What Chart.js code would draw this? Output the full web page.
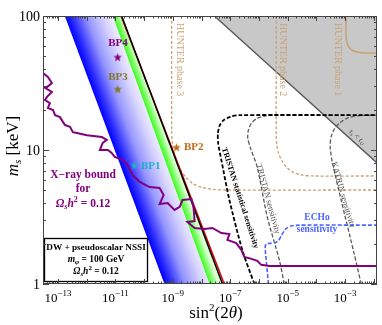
<!DOCTYPE html>
<html lang="en">
<head>
<meta charset="UTF-8">
<title>DW + pseudoscalar NSSI - sterile neutrino parameter space</title>
<script src="https://cdn.jsdelivr.net/npm/chart.js@4.4.1/dist/chart.umd.min.js"></script>
<style>
  html, body { margin: 0; padding: 0; background: #fff; }
  #chart { display: block; }
</style>
</head>
<body>
<canvas id="chart" width="382" height="325"></canvas>
<script>
// x values are log10 of sin^2(2 theta), y values are m_s in keV
const xRangeExp = [-13.52, -1.89];
const yRange = [1, 100];
const xTickExps = [-13, -11, -9, -7, -5, -3];
const yTickVals = [1, 10, 100];

// straight bands (top at m_s = 100 keV, bottom at m_s = 1 keV)
const edgeM = [100, 1];
const blueLeftX = [-12.76, -9.29];
const blueRightX = [-11.09, -7.72];
const blackX = [-10.78, -7.27];
const redX = [-10.80, -7.21];

// tau_s < t_U region boundary
const tauX = [-7.55, -1.89];
const tauM = [100, 8.0];

// X-ray bound
const xrayX = [-13.52, -13.35, -13.21, -13.38, -13.45, -13.21, -13.38, -13.45, -13.28, -13.35,
  -13.17, -13.10, -12.93, -12.76, -12.58, -12.48, -12.34, -11.99, -11.47, -11.30,
  -11.44, -11.54, -11.26, -11.13, -11.02, -10.74, -10.57, -10.40, -10.15, -9.81,
  -9.46, -9.32, -9.46, -9.18, -8.94, -8.76, -8.66, -8.35, -8.28, -8.24,
  -8.49, -8.24, -7.90, -7.62, -7.31, -7.03, -7.10, -6.79, -6.61, -6.51,
  -6.26, -6.06, -5.92, -5.64, -1.89];
const xrayM = [37.6, 35.1, 31.6, 29.5, 29.1, 27.1, 24.9, 23.6, 22.4, 20.6,
  19.9, 18.2, 17.6, 15.4, 14.9, 13.6, 13.4, 12.9, 12.5, 11.9,
  11.3, 10.0, 10.0, 9.50, 8.87, 8.42, 7.73, 6.50, 5.77, 5.29,
  5.20, 4.61, 3.95, 4.02, 3.57, 3.76, 4.24, 4.31, 3.76, 2.95,
  2.90, 2.62, 2.57, 2.62, 2.40, 2.36, 2.13, 2.02, 1.79, 1.59,
  1.54, 1.49, 1.39, 1.36, 1.36];

// experiments
const hunter3X = [-9.04, -9.04, -9.02, -8.98, -8.90, -8.76, -8.56, -8.30, -7.98, -7.60, -7.20, -1.89];
const hunter3M = [100, 14.0, 11.6, 10.0, 8.6, 7.3, 6.3, 5.6, 5.25, 5.08, 5.03, 5.03];
const hunter2X = [-5.40, -5.40, -5.38, -5.32, -5.20, -5.03, -4.80, -4.50, -4.10, -1.89];
const hunter2M = [100, 13.0, 11.0, 9.5, 8.3, 7.4, 6.8, 6.5, 6.40, 6.40];
const hunter1X = [-2.97, -2.97, -2.94, -2.86, -2.72, -2.50, -2.17, -1.89];
const hunter1M = [100, 72.0, 64.0, 58.5, 55.0, 53.5, 53.0, 53.0];

const tristanStatX = [-6.16, -6.58, -7.03, -7.31, -7.42, -7.43, -7.37, -7.23, -7.00, -6.68, -1.89];
const tristanStatM = [1, 1.79, 4.24, 8.42, 11.2, 13.3, 15.2, 16.7, 17.7, 18.2, 18.2];
const tristanX = [-5.12, -5.29, -5.71, -6.06, -6.30, -6.39, -6.37, -6.26, -6.07, -5.82, -5.50, -1.89];
const tristanM = [1, 1.51, 3.16, 7.46, 10.4, 12.3, 14.0, 15.9, 17.2, 17.9, 18.2, 18.2];
const katrinX = [-2.44, -2.69, -3.14, -3.46, -3.52, -3.49, -3.37, -3.18, -2.92, -2.60, -1.89];
const katrinM = [1, 1.70, 4.24, 8.42, 10.6, 12.5, 14.4, 16.0, 17.3, 18.0, 18.2];
const echoX = [-5.67, -5.78, -5.78, -5.74, -5.64, -5.43, -5.31, -5.21, -5.07, -4.88, -4.60, -1.89];
const echoM = [1, 1.79, 1.93, 1.99, 2.01, 2.03, 2.12, 2.32, 2.58, 2.71, 2.75, 2.75];

// benchmark points
const bpNames = ['BP1', 'BP2', 'BP3', 'BP4'];
const bpX = [-10.33, -8.87, -10.92, -10.92];
const bpM = [7.73, 10.5, 28.5, 49.4];
const bpColors = ['#1fb0c8', '#c26a12', '#857a22', '#800080'];

const SERIF = '"Liberation Serif", "DejaVu Serif", serif';
const TAN = '#c9a272';
const PURPLE = '#800080';
const ECHO = '#4a63ff';

function pts(xs, ms) {
  return xs.map((e, i) => ({ x: Math.pow(10, e), y: ms[i] }));
}

function band(leftX, rightX) {
  return [
    { x: Math.pow(10, leftX[0]), y: edgeM[0] },
    { x: Math.pow(10, leftX[1]), y: edgeM[1] },
    { x: Math.pow(10, rightX[1]), y: edgeM[1] },
    { x: Math.pow(10, rightX[0]), y: edgeM[0] }
  ];
}

// gradient running across a slanted band, from its left edge to its right edge
function bandGradient(leftX, rightX, stops) {
  return function (context) {
    const chart = context.chart;
    const sx = chart.scales.x, sy = chart.scales.y;
    if (!chart.chartArea || !sx || !sy) return stops[0][1];
    const ax = sx.getPixelForValue(Math.pow(10, leftX[0])), ay = sy.getPixelForValue(edgeM[0]);
    const bx = sx.getPixelForValue(Math.pow(10, leftX[1])), by = sy.getPixelForValue(edgeM[1]);
    const cx = sx.getPixelForValue(Math.pow(10, rightX[0]));
    const len = Math.hypot(bx - ax, by - ay);
    const nx = (by - ay) / len, ny = -(bx - ax) / len;
    const w = (cx - ax) * nx;
    const g = chart.ctx.createLinearGradient(ax, ay, ax + nx * w, ay + ny * w);
    stops.forEach(s => g.addColorStop(s[0], s[1]));
    return g;
  };
}

function starImage(color, r) {
  const c = document.createElement('canvas');
  const s = Math.ceil(r * 2 + 2);
  c.width = s; c.height = s;
  const g = c.getContext('2d');
  g.translate(s / 2, s / 2 + 0.5);
  g.beginPath();
  for (let i = 0; i < 10; i++) {
    const rr = i % 2 ? r * 0.42 : r;
    const a = -Math.PI / 2 + i * Math.PI / 5;
    g.lineTo(rr * Math.cos(a), rr * Math.sin(a));
  }
  g.closePath();
  g.fillStyle = color;
  g.fill();
  return c;
}

function lineSet(xs, ms, color, width, dash, order, tension) {
  return {
    data: pts(xs, ms), borderColor: color, borderWidth: width, borderDash: dash || [],
    pointRadius: 0, fill: false, tension: tension || 0, order: order
  };
}

// mixed-size text (sub/superscripts) on one baseline
function rich(ctx, parts, x, y, align) {
  let w = 0;
  parts.forEach(p => { ctx.font = p.f; w += ctx.measureText(p.t).width; });
  let cx = align === 'center' ? x - w / 2 : (align === 'right' ? x - w : x);
  ctx.textAlign = 'left';
  parts.forEach(p => {
    ctx.font = p.f;
    ctx.fillText(p.t, cx, y + (p.dy || 0));
    cx += ctx.measureText(p.t).width;
  });
}

function rotText(ctx, text, font, color, x, y, angle, align) {
  ctx.save();
  ctx.translate(x, y);
  ctx.rotate(angle);
  ctx.font = font;
  ctx.fillStyle = color;
  ctx.textAlign = align || 'center';
  ctx.textBaseline = 'middle';
  ctx.fillText(text, 0, 0);
  ctx.restore();
}

const decor = {
  id: 'decor',
  afterDatasetsDraw(chart) {
    const { ctx, chartArea: a } = chart;
    const sx = chart.scales.x, sy = chart.scales.y;
    ctx.save();

    // texts inside the plot
    ctx.textBaseline = 'middle';
    ctx.fillStyle = PURPLE;
    rich(ctx, [{ t: 'X\u2212ray bound', f: 'bold 11.5px ' + SERIF }], 83, 175, 'center');
    rich(ctx, [{ t: 'for', f: 'bold 11.5px ' + SERIF }], 83, 189, 'center');
    rich(ctx, [
      { t: '\u03A9', f: 'italic bold 11.5px ' + SERIF },
      { t: 's', f: 'italic bold 8px ' + SERIF, dy: 3 },
      { t: 'h', f: 'italic bold 11.5px ' + SERIF },
      { t: '2', f: 'bold 8px ' + SERIF, dy: -4 },
      { t: ' = 0.12', f: 'bold 11.5px ' + SERIF }
    ], 83, 204, 'center');

    // benchmark labels
    ctx.font = 'bold 11px ' + SERIF;
    ctx.fillStyle = bpColors[3]; ctx.textAlign = 'center'; ctx.fillText(bpNames[3], 118, 43);
    ctx.fillStyle = bpColors[2]; ctx.fillText(bpNames[2], 118, 77);
    ctx.textAlign = 'left';
    ctx.fillStyle = bpColors[1]; ctx.fillText(bpNames[1], 184, 147);
    ctx.fillStyle = bpColors[0]; ctx.fillText(bpNames[0], 141, 166);

    // experiment labels
    rotText(ctx, 'HUNTER phase 3', '10px ' + SERIF, TAN, 180, 23, Math.PI / 2, 'left');
    rotText(ctx, 'HUNTER phase 2', '10px ' + SERIF, TAN, 283, 23, Math.PI / 2, 'left');
    rotText(ctx, 'HUNTER phase 1', '10px ' + SERIF, TAN, 338, 23, Math.PI / 2, 'left');
    rotText(ctx, 'TRISTAN statistical sensitivity', 'bold 8px ' + SERIF, '#000', 240, 198, 1.258);
    rotText(ctx, 'TRISTAN sensitivity', '8.5px ' + SERIF, '#555', 268, 199, 1.304);
    rotText(ctx, 'KATRIN sensitivity', '8.5px ' + SERIF, '#555', 343, 195, 1.29);

    ctx.save();
    ctx.translate(357, 137);
    ctx.rotate(0.734);
    ctx.fillStyle = '#444';
    ctx.textBaseline = 'middle';
    rich(ctx, [
      { t: '\u03C4', f: 'italic 8px ' + SERIF },
      { t: 's', f: 'italic 5px ' + SERIF, dy: 2 },
      { t: ' < ', f: '8px ' + SERIF },
      { t: 't', f: 'italic 8px ' + SERIF },
      { t: 'U', f: 'italic 5px ' + SERIF, dy: 2 }
    ], 0, 0, 'center');
    ctx.restore();

    ctx.fillStyle = ECHO;
    ctx.textBaseline = 'middle';
    rich(ctx, [{ t: 'ECHo', f: 'bold 9.5px ' + SERIF }], 317, 218, 'center');
    rich(ctx, [{ t: 'sensitivity', f: 'bold 9.5px ' + SERIF }], 317, 230, 'center');

    // info box
    ctx.fillStyle = '#fff';
    ctx.fillRect(44, 238, 104, 44);
    ctx.strokeStyle = '#000'; ctx.lineWidth = 1.3;
    ctx.strokeRect(44.5, 238.5, 103, 43);
    ctx.fillStyle = '#000';
    rich(ctx, [{ t: 'DW + pseudoscalar NSSI', f: 'bold 9.2px ' + SERIF }], 96, 248, 'center');
    rich(ctx, [
      { t: 'm', f: 'italic bold 9.5px ' + SERIF },
      { t: '\u03C6', f: 'italic bold 7px ' + SERIF, dy: 2.5 },
      { t: ' = 100 GeV', f: 'bold 9.5px ' + SERIF }
    ], 96, 260, 'center');
    rich(ctx, [
      { t: '\u03A9', f: 'italic bold 9.5px ' + SERIF },
      { t: 's', f: 'italic bold 7px ' + SERIF, dy: 2.5 },
      { t: 'h', f: 'italic bold 9.5px ' + SERIF },
      { t: '2', f: 'bold 7px ' + SERIF, dy: -3.5 },
      { t: ' = 0.12', f: 'bold 9.5px ' + SERIF }
    ], 96, 272, 'center');

    // frame and inward ticks
    ctx.strokeStyle = '#444'; ctx.lineWidth = 1;
    ctx.strokeRect(a.left + 0.5, a.top + 0.5, a.right - a.left - 1, a.bottom - a.top - 1);
    ctx.beginPath();
    for (let e = Math.floor(xRangeExp[0]); e <= Math.ceil(xRangeExp[1]); e++) {
      for (let k = 1; k < 10; k++) {
        const v = k * Math.pow(10, e);
        if (v < sx.min || v > sx.max) continue;
        const p = Math.round(sx.getPixelForValue(v)) + 0.5;
        const len = k === 1 ? 5 : 2.5;
        ctx.moveTo(p, a.bottom); ctx.lineTo(p, a.bottom - len);
        ctx.moveTo(p, a.top); ctx.lineTo(p, a.top + len);
      }
    }
    for (let e = 0; e <= 2; e++) {
      for (let k = 1; k < 10; k++) {
        const v = k * Math.pow(10, e);
        if (v < yRange[0] || v > yRange[1]) continue;
        const p = Math.round(sy.getPixelForValue(v)) + 0.5;
        const len = k === 1 ? 6 : 3;
        ctx.moveTo(a.left, p); ctx.lineTo(a.left + len, p);
        ctx.moveTo(a.right, p); ctx.lineTo(a.right - len, p);
      }
    }
    ctx.stroke();

    // tick labels
    ctx.fillStyle = '#000';
    ctx.textBaseline = 'alphabetic';
    xTickExps.forEach(e => {
      const p = sx.getPixelForValue(Math.pow(10, e));
      rich(ctx, [
        { t: '10', f: '13px ' + SERIF },
        { t: '\u2212' + Math.abs(e), f: '9px ' + SERIF, dy: -6 }
      ], p, 302, 'center');
    });
    yTickVals.forEach(v => {
      const p = sy.getPixelForValue(v);
      rich(ctx, [{ t: String(v), f: '14px ' + SERIF }], 40, p + 5, 'right');
    });

    // axis titles
    rich(ctx, [
      { t: 'sin', f: '17px ' + SERIF },
      { t: '2', f: '11px ' + SERIF, dy: -7 },
      { t: '(2', f: '17px ' + SERIF },
      { t: '\u03B8', f: 'italic 17px ' + SERIF },
      { t: ')', f: '17px ' + SERIF }
    ], 216, 318, 'center');
    ctx.save();
    ctx.translate(18, 146);
    ctx.rotate(-Math.PI / 2);
    rich(ctx, [
      { t: 'm', f: 'italic 17px ' + SERIF },
      { t: 's', f: 'italic 11px ' + SERIF, dy: 3 },
      { t: ' [keV]', f: '17px ' + SERIF }
    ], 0, 0, 'center');
    ctx.restore();

    ctx.restore();
  }
};

const datasets = [
  {
    data: pts(tauX, tauM), fill: 'end', backgroundColor: '#c8c8c8',
    borderColor: '#555', borderWidth: 1.3, pointRadius: 0, order: 20
  },
  {
    data: band(blueLeftX, blueRightX), fill: 'shape', borderColor: 'rgba(0,0,0,0)', borderWidth: 0,
    pointRadius: 0, order: 19,
    backgroundColor: bandGradient(blueLeftX, blueRightX,
      [[0, 'rgb(0,0,255)'], [0.15, 'rgb(45,45,255)'], [0.45, 'rgb(150,150,255)'],
       [0.8, 'rgb(215,212,255)'], [1, 'rgb(240,238,255)']])
  },
  {
    data: band(blueRightX, blackX), fill: 'shape', borderColor: 'rgba(0,0,0,0)', borderWidth: 0,
    pointRadius: 0, order: 18,
    backgroundColor: bandGradient(blueRightX, blackX,
      [[0, 'rgb(60,250,30)'], [0.55, 'rgb(140,255,120)'], [1, 'rgb(220,255,210)']])
  },
  lineSet(hunter3X, hunter3M, TAN, 1.3, [3, 2], 15, 0.25),
  lineSet(hunter2X, hunter2M, TAN, 1.3, [3, 2], 15, 0.25),
  lineSet(hunter1X, hunter1M, TAN, 1.5, [], 15, 0.25),
  lineSet(tristanX, tristanM, '#5a5a5a', 1.3, [4, 2], 13, 0.25),
  lineSet(katrinX, katrinM, '#5a5a5a', 1.3, [4, 2], 13, 0.25),
  lineSet(tristanStatX, tristanStatM, '#000', 1.8, [4, 2], 12, 0.25),
  lineSet(echoX, echoM, ECHO, 1.6, [4, 2], 11, 0.2),
  lineSet(redX, edgeM, '#e00000', 1.5, [], 6),
  lineSet(blackX, edgeM, '#000', 1.5, [], 5),
  lineSet(xrayX, xrayM, PURPLE, 2, [], 4),
  {
    data: pts(bpX, bpM), showLine: false, order: 1,
    pointStyle: bpColors.map(c => starImage(c, 4.5)),
    pointRadius: 5, borderWidth: 0
  }
];

new Chart(document.getElementById('chart'), {
  type: 'line',
  data: { datasets: datasets },
  options: {
    responsive: false,
    devicePixelRatio: 1,
    animation: false,
    layout: { padding: { top: 16, right: 4, left: 0, bottom: 0 } },
    plugins: { legend: { display: false }, tooltip: { enabled: false } },
    scales: {
      x: {
        type: 'logarithmic', bounds: 'data',
        min: Math.pow(10, xRangeExp[0]), max: Math.pow(10, xRangeExp[1]),
        ticks: { display: false }, grid: { display: false }, border: { display: false },
        afterFit: s => { s.height = 41; }
      },
      y: {
        type: 'logarithmic', bounds: 'data',
        min: yRange[0], max: yRange[1],
        ticks: { display: false }, grid: { display: false }, border: { display: false },
        afterFit: s => { s.width = 43; }
      }
    }
  },
  plugins: [decor]
});
</script>
</body>
</html>
